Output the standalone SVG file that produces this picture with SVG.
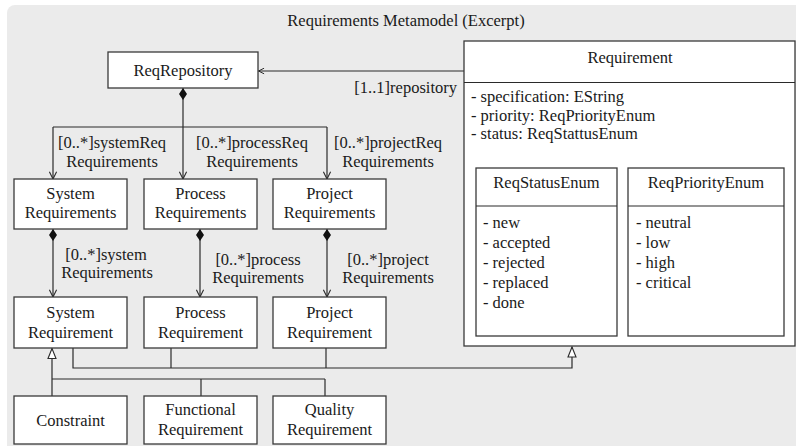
<svg xmlns="http://www.w3.org/2000/svg" width="796" height="446" viewBox="0 0 796 446">
  <style>
    text { font-family: Liberation Serif, Times New Roman, DejaVu Serif, serif; font-size: 16.5px; fill: #1a1a1a; }
    .c { text-anchor: middle; }
    .e { text-anchor: end; }
    .box { fill: #ffffff; stroke: #3a3a3a; stroke-width: 1.3; }
    .ln { fill: none; stroke: #2a2a2a; stroke-width: 1.2; }
  </style>
  <defs>
    <marker id="open" viewBox="0 0 10 10" refX="9" refY="5" markerWidth="9" markerHeight="9" markerUnits="userSpaceOnUse" orient="auto">
      <path d="M1,1 L9,5 L1,9" fill="none" stroke="#2a2a2a" stroke-width="1.2"/>
    </marker>
    <marker id="openSmall" viewBox="0 0 10 10" refX="9" refY="5" markerWidth="7" markerHeight="7" markerUnits="userSpaceOnUse" orient="auto">
      <path d="M1,1 L9,5 L1,9" fill="none" stroke="#2a2a2a" stroke-width="1.4"/>
    </marker>
    <marker id="diamond" viewBox="0 0 12 8" refX="0" refY="4" markerWidth="12" markerHeight="8" markerUnits="userSpaceOnUse" orient="auto">
      <path d="M0,4 L6,0 L12,4 L6,8 Z" fill="#111111"/>
    </marker>
    <marker id="tri" viewBox="0 0 12 10" refX="11" refY="5" markerWidth="12" markerHeight="10" markerUnits="userSpaceOnUse" orient="auto">
      <path d="M1,1 L11,5 L1,9 Z" fill="#ffffff" stroke="#2a2a2a" stroke-width="1.1"/>
    </marker>
  </defs>

  <!-- package frame -->
  <rect x="7" y="5" width="800" height="460" rx="8" fill="#ebebeb"/>
  <text class="c" x="406" y="26">Requirements Metamodel (Excerpt)</text>

  <!-- connectors -->
  <g id="connectors">
    <!-- Requirement.repository -->
    <line class="ln" x1="464" y1="71" x2="258.5" y2="71" marker-end="url(#openSmall)"/>
    <text class="e" x="457" y="93">[1..1]repository</text>

    <!-- ReqRepository compositions -->
    <path class="ln" d="M183,88 L183,127" marker-start="url(#diamond)"/>
    <path class="ln" d="M53,127 L327,127"/>
    <line class="ln" x1="53" y1="127" x2="53" y2="179" marker-end="url(#open)"/>
    <line class="ln" x1="183" y1="127" x2="183" y2="179" marker-end="url(#open)"/>
    <line class="ln" x1="327" y1="127" x2="327" y2="179" marker-end="url(#open)"/>
    <text class="c" x="112" y="148">[0..*]systemReq</text>
    <text class="c" x="112" y="167">Requirements</text>
    <text class="c" x="252" y="148">[0..*]processReq</text>
    <text class="c" x="252" y="167">Requirements</text>
    <text class="c" x="388" y="148">[0..*]projectReq</text>
    <text class="c" x="388" y="167">Requirements</text>

    <!-- container to element compositions -->
    <line class="ln" x1="53" y1="229" x2="53" y2="297" marker-start="url(#diamond)" marker-end="url(#open)"/>
    <line class="ln" x1="200" y1="229" x2="200" y2="297" marker-start="url(#diamond)" marker-end="url(#open)"/>
    <line class="ln" x1="327" y1="229" x2="327" y2="297" marker-start="url(#diamond)" marker-end="url(#open)"/>
    <text class="c" x="106" y="260">[0..*]system</text>
    <text class="c" x="107" y="278">Requirements</text>
    <text class="c" x="258" y="265">[0..*]process</text>
    <text class="c" x="258" y="283">Requirements</text>
    <text class="c" x="388" y="265">[0..*]project</text>
    <text class="c" x="388" y="283">Requirements</text>

    <!-- generalizations to Requirement -->
    <path class="ln" d="M73,348 L73,368 L572,368 L572,347" marker-end="url(#tri)"/>
    <line class="ln" x1="171" y1="348" x2="171" y2="368"/>
    <line class="ln" x1="326" y1="348" x2="326" y2="368"/>

    <!-- generalizations to System Requirement -->
    <path class="ln" d="M52,396 L52,348.5" marker-end="url(#tri)"/>
    <path class="ln" d="M52,379 L325,379"/>
    <line class="ln" x1="201" y1="379" x2="201" y2="396"/>
    <line class="ln" x1="325" y1="379" x2="325" y2="396"/>
  </g>

  <!-- nodes -->
  <g id="reqRepository">
    <rect class="box" x="108" y="52" width="150" height="36"/>
    <text class="c" x="183" y="76">ReqRepository</text>
  </g>

  <g id="systemRequirements">
    <rect class="box" x="14" y="179" width="113" height="50"/>
    <text class="c" x="70.5" y="199">System</text>
    <text class="c" x="70.5" y="218">Requirements</text>
  </g>
  <g id="processRequirements">
    <rect class="box" x="144" y="179" width="113" height="50"/>
    <text class="c" x="200.5" y="199">Process</text>
    <text class="c" x="200.5" y="218">Requirements</text>
  </g>
  <g id="projectRequirements">
    <rect class="box" x="273" y="179" width="113" height="50"/>
    <text class="c" x="329.5" y="199">Project</text>
    <text class="c" x="329.5" y="218">Requirements</text>
  </g>

  <g id="systemRequirement">
    <rect class="box" x="14" y="297" width="113" height="51"/>
    <text class="c" x="70.5" y="318">System</text>
    <text class="c" x="70.5" y="338">Requirement</text>
  </g>
  <g id="processRequirement">
    <rect class="box" x="144" y="297" width="113" height="51"/>
    <text class="c" x="200.5" y="318">Process</text>
    <text class="c" x="200.5" y="338">Requirement</text>
  </g>
  <g id="projectRequirement">
    <rect class="box" x="273" y="297" width="113" height="51"/>
    <text class="c" x="329.5" y="318">Project</text>
    <text class="c" x="329.5" y="338">Requirement</text>
  </g>

  <g id="constraint">
    <rect class="box" x="14" y="396" width="113" height="48"/>
    <text class="c" x="70.5" y="426">Constraint</text>
  </g>
  <g id="functionalRequirement">
    <rect class="box" x="144" y="396" width="113" height="48"/>
    <text class="c" x="200.5" y="415">Functional</text>
    <text class="c" x="200.5" y="435">Requirement</text>
  </g>
  <g id="qualityRequirement">
    <rect class="box" x="273" y="396" width="113" height="48"/>
    <text class="c" x="329.5" y="415">Quality</text>
    <text class="c" x="329.5" y="435">Requirement</text>
  </g>

  <g id="requirement">
    <rect class="box" x="464" y="41" width="331" height="305"/>
    <line class="ln" x1="464" y1="82.5" x2="795" y2="82.5"/>
    <text class="c" x="630" y="63">Requirement</text>
    <text x="471" y="102">- specification: EString</text>
    <text x="471" y="121">- priority: ReqPriorityEnum</text>
    <text x="471" y="139">- status: ReqStattusEnum</text>
  </g>

  <g id="reqStatusEnum">
    <rect class="box" x="476" y="168" width="141" height="168"/>
    <line class="ln" x1="476" y1="206" x2="617" y2="206"/>
    <text class="c" x="546.5" y="188">ReqStatusEnum</text>
    <text x="483" y="228">- new</text>
    <text x="483" y="248">- accepted</text>
    <text x="483" y="268">- rejected</text>
    <text x="483" y="288">- replaced</text>
    <text x="483" y="308">- done</text>
  </g>

  <g id="reqPriorityEnum">
    <rect class="box" x="628" y="168" width="156" height="168"/>
    <line class="ln" x1="628" y1="206" x2="784" y2="206"/>
    <text class="c" x="706" y="188">ReqPriorityEnum</text>
    <text x="636" y="228">- neutral</text>
    <text x="636" y="248">- low</text>
    <text x="636" y="268">- high</text>
    <text x="636" y="288">- critical</text>
  </g>
</svg>
